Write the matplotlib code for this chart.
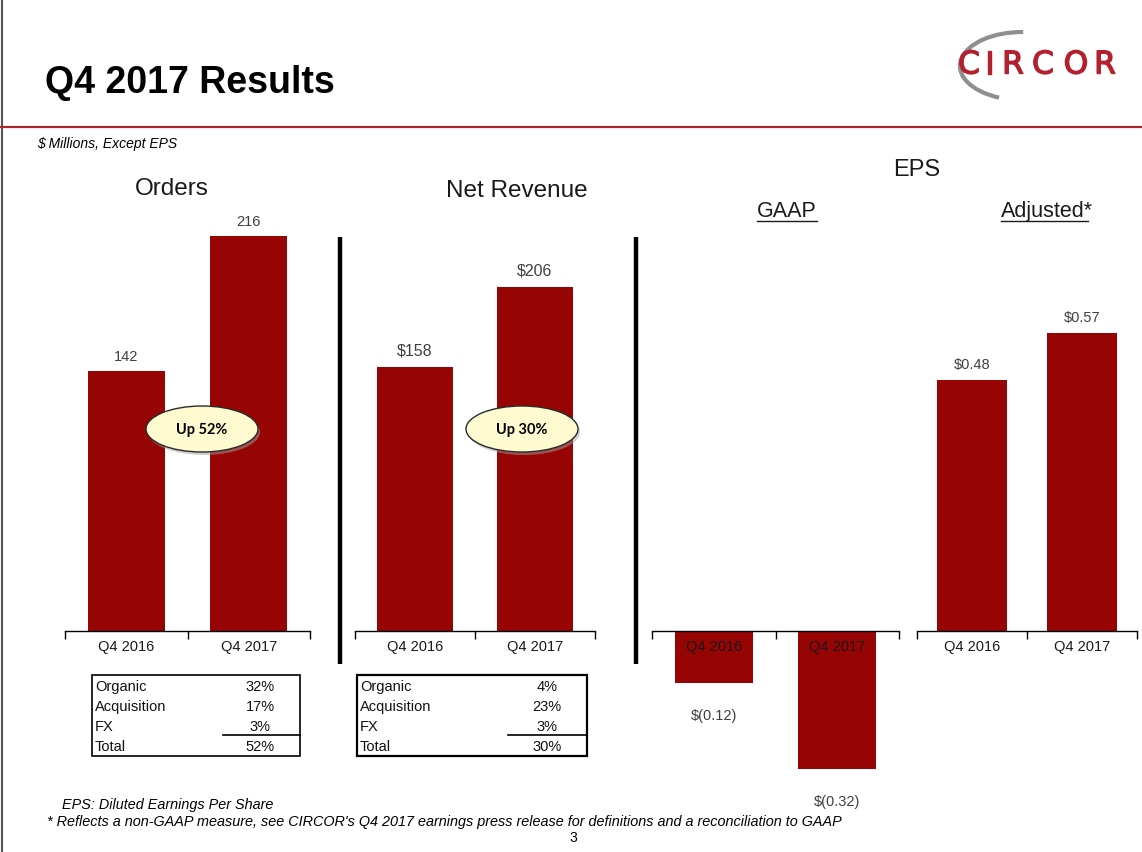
import matplotlib
matplotlib.use("Agg")
import matplotlib.pyplot as plt
import matplotlib.patheffects as pe
from matplotlib.patches import Ellipse, Rectangle, Arc

plt.rcParams['font.family'] = ['Liberation Sans', 'DejaVu Sans']

# ---- data ----
categories = ['Q4 2016', 'Q4 2017']
orders = [142, 216]
revenue = [158, 206]
eps_gaap = [-0.12, -0.32]
eps_adjusted = [0.48, 0.57]

bridge_rows = ['Organic', 'Acquisition', 'FX', 'Total']
orders_bridge = [32, 17, 3, 52]
revenue_bridge = [4, 23, 3, 30]

W, H = 1142, 853
RED = '#960404'
GREY_TXT = '#404040'
LOGO_RED = '#b4202e'

fig = plt.figure(figsize=(W / 100, H / 100), dpi=100)
fig.patch.set_facecolor('white')


def rect(x0, y_top, x1, y_bot):
    # pixel box (top-left origin) -> figure fraction
    return [x0 / W, 1 - y_bot / H, (x1 - x0) / W, (y_bot - y_top) / H]


def bar_panel(x0, x1, y_top, y_bot, values, ylim, labels, offset, size):
    ax = fig.add_axes(rect(x0, y_top, x1, y_bot))
    ax.patch.set_alpha(0)
    ax.bar(range(len(values)), values, width=0.63, color=RED, zorder=1)
    ax.set_xlim(-0.5, 1.5)
    ax.set_ylim(*ylim)
    for s in ['left', 'right', 'top']:
        ax.spines[s].set_visible(False)
    ax.spines['bottom'].set_position(('data', 0))
    ax.spines['bottom'].set_linewidth(1.0)
    ax.set_yticks([])
    ax.set_xticks([-0.5, 0.5, 1.5])
    ax.set_xticklabels([])
    ax.tick_params(axis='x', which='major', length=6, width=1, direction='out')
    ax.set_xticks([0, 1], minor=True)
    ax.set_xticklabels(categories, minor=True)
    ax.tick_params(axis='x', which='minor', length=0, pad=6,
                   labelsize=10.5, labelcolor='#1a1a1a')
    for i, (v, lab) in enumerate(zip(values, labels)):
        off = offset if v >= 0 else -offset * 2
        ax.annotate(lab, (i, v), xytext=(0, off), textcoords='offset points',
                    ha='center', va='center', fontsize=size, color=GREY_TXT)
    return ax


def eps_label(v):
    return f'${v:.2f}' if v >= 0 else f'$({abs(v):.2f})'


# Orders: baseline at y=632, ~1.83 px per unit
bar_panel(65, 310, 632 - 240 * 1.829, 632, orders, (0, 240),
          [str(v) for v in orders], 11, 10.5)
# Net revenue: ~1.67 px per unit
bar_panel(355, 595, 632 - 250 * 1.670, 632, revenue, (0, 250),
          [f'${v}' for v in revenue], 12, 11.5)
# EPS GAAP (negative): ~431 px per unit
bar_panel(652, 899, 632, 632 + 0.40 * 431, eps_gaap, (-0.40, 0),
          [eps_label(v) for v in eps_gaap], 11.5, 10.5)
# EPS adjusted: ~522 px per unit
bar_panel(917, 1137, 632 - 0.65 * 522, 632, eps_adjusted, (0, 0.65),
          [eps_label(v) for v in eps_adjusted], 11.5, 10.5)

# ---- overlay in pixel coordinates ----
ov = fig.add_axes([0, 0, 1, 1])
ov.set_xlim(0, W)
ov.set_ylim(H, 0)
ov.axis('off')
ov.patch.set_alpha(0)

# slide frame and header
ov.plot([2, 2], [0, H], color='#555555', lw=1.5)
ov.plot([0, W], [128, 128], color='#a8282e', lw=1.6)
ov.text(45, 83, 'Q4 2017 Results', fontsize=27, fontweight='bold',
        va='center', ha='left', color='black')
ov.text(37, 144, '$ Millions, Except EPS', fontsize=10, style='italic',
        va='center', ha='left', color='black')

# logo (y axis is inverted here, so angles are mirrored)
ov.add_patch(Arc((1022, 67), 124, 68, theta1=126, theta2=272,
                 color='#8e8e8e', lw=3.0, zorder=1))
for ch, cx in zip('CIRCOR', [969, 990, 1013, 1043, 1076, 1105]):
    ov.text(cx, 66, ch, fontsize=22.5, family='DejaVu Sans',
            color=LOGO_RED, ha='center', va='center', zorder=2,
            path_effects=[pe.withStroke(linewidth=1.0, foreground=LOGO_RED)])

# panel headings
ov.text(172, 189, 'Orders', fontsize=17.5, ha='center', va='center', color='#1a1a1a')
ov.text(517, 191, 'Net Revenue', fontsize=17.5, ha='center', va='center', color='#1a1a1a')
ov.text(917, 170, 'EPS', fontsize=17, ha='center', va='center', color='#1a1a1a')
ov.text(787, 211, 'GAAP', fontsize=15.5, ha='center', va='center', color='#1a1a1a')
ov.plot([757, 817], [222, 222], color='#1a1a1a', lw=1)
ov.text(1001, 211, 'Adjusted*', fontsize=15.5, ha='left', va='center', color='#1a1a1a')
ov.plot([1001, 1088], [222, 222], color='#1a1a1a', lw=1)

# separators
for x in [340, 636]:
    ov.plot([x, x], [238, 665], color='black', lw=3.2, solid_capstyle='butt')

# callouts
for cx, val in [(202, orders_bridge[-1]), (522, revenue_bridge[-1])]:
    ov.add_patch(Ellipse((cx + 2, 433), 112, 46, facecolor='#a0a0a0',
                         edgecolor='none', alpha=0.5, zorder=3))
    ov.add_patch(Ellipse((cx, 430), 112, 46, facecolor='#fdfbcf',
                         edgecolor='#2a2a2a', lw=1, zorder=4))
    ov.text(cx, 430, f'Up {val}%', fontsize=10.5, fontweight='bold',
            family=['Lato', 'DejaVu Sans'], ha='center', va='center',
            color='black', zorder=5)


# growth tables
def draw_table(x0, x1, xval, line_x0, vals, lw):
    ov.add_patch(Rectangle((x0, 676), x1 - x0, 81, fill=False,
                           edgecolor='black', lw=lw))
    for i, (r, v) in enumerate(zip(bridge_rows, vals)):
        y = 687 + 20 * i
        ov.text(x0 + 3, y, r, fontsize=10.5, ha='left', va='center', color='#111111')
        ov.text(xval, y, f'{v}%', fontsize=10.5, ha='center', va='center', color='#111111')
    ov.plot([line_x0, x1], [736, 736], color='black', lw=1.2)


draw_table(92, 300, 260, 223, orders_bridge, 1.2)
draw_table(357, 587, 547, 508, revenue_bridge, 1.6)

# footnotes
ov.text(62, 805, 'EPS: Diluted Earnings Per Share', fontsize=10.4, style='italic',
        ha='left', va='center', color='black')
ov.text(47, 822, "* Reflects a non-GAAP measure, see CIRCOR's Q4 2017 earnings press "
        "release for definitions and a reconciliation to GAAP", fontsize=10.4,
        style='italic', ha='left', va='center', color='black')
ov.text(573, 838, '3', fontsize=10, ha='center', va='center', color='black')

fig.savefig('out.png', dpi=100)
